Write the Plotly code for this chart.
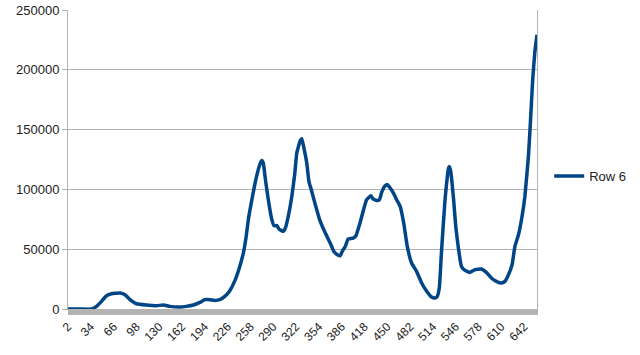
import plotly.graph_objects as go

days = [2, 20, 35, 42, 49, 56, 63, 75, 82, 89, 98, 112, 126, 136, 145, 159, 168, 178,
        187, 194, 201, 208, 215, 222, 229, 236, 243, 248, 252, 255, 260, 266, 271, 274,
        276, 279, 283, 288, 291, 295, 298, 304, 307, 311, 316, 320, 323, 328, 330, 332,
        337, 340, 344, 349, 355, 363, 370, 375, 380, 384, 387, 391, 395, 402, 406, 411,
        416, 421, 427, 430, 435, 439, 442, 447, 450, 454, 459, 463, 468, 473, 478, 484,
        491, 498, 505, 512, 517, 520, 523, 526, 531, 536, 537, 539, 543, 546, 550, 554,
        559, 566, 573, 582, 589, 596, 603, 610, 615, 620, 625, 629, 634, 639, 643, 648,
        650, 652, 654, 657, 660]

row6 = [0, 0, 0, 2200, 6400, 11100, 12800, 13400, 12000, 7800, 4400, 3300, 2800, 3300,
        2200, 1700, 2200, 3300, 5500, 7800, 7800, 7200, 7800, 10500, 15300, 23500, 35600,
        46800, 60700, 74700, 91400, 109500, 120600, 124200, 122000, 108100, 91400, 74700,
        69700, 69700, 66900, 64900, 67700, 77400, 94100, 112300, 130400, 141000, 142400,
        137400, 122000, 106700, 98300, 87200, 74700, 63500, 55000, 48000, 45400, 44600,
        48500, 52300, 58500, 59300, 61300, 70500, 81600, 91400, 94700, 92000, 90800, 91400,
        97500, 103100, 103900, 101200, 96400, 91400, 85800, 71900, 52300, 38500, 31500,
        22000, 15000, 10000, 9200, 10500, 18000, 48000, 91400, 117900, 119200, 115000,
        91400, 69100, 49600, 35600, 32300, 30600, 32900, 33400, 30600, 25900, 23100, 21700,
        23100, 28700, 37000, 52300, 62100, 77400, 94100, 128000, 148000, 170000, 192000,
        215000, 229300]

tick_labels = list(range(2, 643, 32))
series_name = "Row 6"
grid = "#b3b3b3"

fig = go.Figure()
# invisible helper trace carrying the dense per-category tick axis
fig.add_trace(go.Scatter(x=[days[0]], y=[row6[0]], xaxis="x2", mode="markers",
                         marker=dict(opacity=0), showlegend=False, hoverinfo="skip"))
fig.add_trace(go.Scatter(
    x=days, y=row6, mode="lines", name=series_name,
    line=dict(color="#004586", width=3.5, shape="spline", smoothing=0.4),
))

fig.update_layout(
    width=640, height=355,
    margin=dict(l=68, r=103, t=10, b=46, autoexpand=False),
    paper_bgcolor="white", plot_bgcolor="white",
    font=dict(family="Liberation Sans", size=13, color="#222"),
    showlegend=True,
    legend=dict(x=1.026, xanchor="left", y=0.445, yanchor="middle",
                font=dict(size=13, color="#222"), bgcolor="rgba(0,0,0,0)"),
    xaxis=dict(
        range=[2, 660], showgrid=False, zeroline=False, automargin=False,
        tickmode="array", tickvals=tick_labels, ticktext=[str(t) for t in tick_labels],
        tickangle=-45, ticks="outside", ticklen=5, tickcolor=grid,
        showline=True, linecolor=grid, linewidth=1,
        tickfont=dict(size=12, color="#222"),
    ),
    xaxis2=dict(
        range=[2, 660], overlaying="x", side="bottom", anchor="y",
        showgrid=False, zeroline=False, automargin=False,
        tickmode="linear", tick0=2, dtick=1, ticks="outside", ticklen=5,
        tickcolor=grid, tickwidth=1, showticklabels=False, showline=False,
    ),
    yaxis=dict(
        range=[0, 250000], dtick=50000, tick0=0, automargin=False,
        showgrid=True, gridcolor=grid, gridwidth=1, zeroline=False,
        showline=True, linecolor=grid, linewidth=1, mirror=True,
        ticks="outside", ticklen=5, tickcolor=grid,
        tickfont=dict(size=13, color="#222"), tickformat="d",
    ),
)

# rewrite 3-argument SVG rotations into the plain translate/rotate form
post_js = r"""
(function(){
  var gd = document.getElementById('{plot_id}');
  function fix(){
    var els = document.querySelectorAll('g.xtick, g.xtick text');
    els.forEach(function(el){
      var tr = el.getAttribute('transform');
      if(!tr || tr.indexOf('rotate(') < 0) return;
      var n = tr.replace(/rotate\(\s*([-\d.eE]+)[\s,]+([-\d.eE]+)[\s,]+([-\d.eE]+)\s*\)/g,
        function(m, a, x, y){
          return 'translate(' + x + ',' + y + ') rotate(' + a + ') translate(' + (-x) + ',' + (-y) + ')';
        });
      el.setAttribute('transform', n);
    });
  }
  fix();
  if (gd && gd.on) { gd.on('plotly_afterplot', fix); }
  setTimeout(fix, 50);
})();
"""

fig.write_html("out.html", post_script=post_js)
